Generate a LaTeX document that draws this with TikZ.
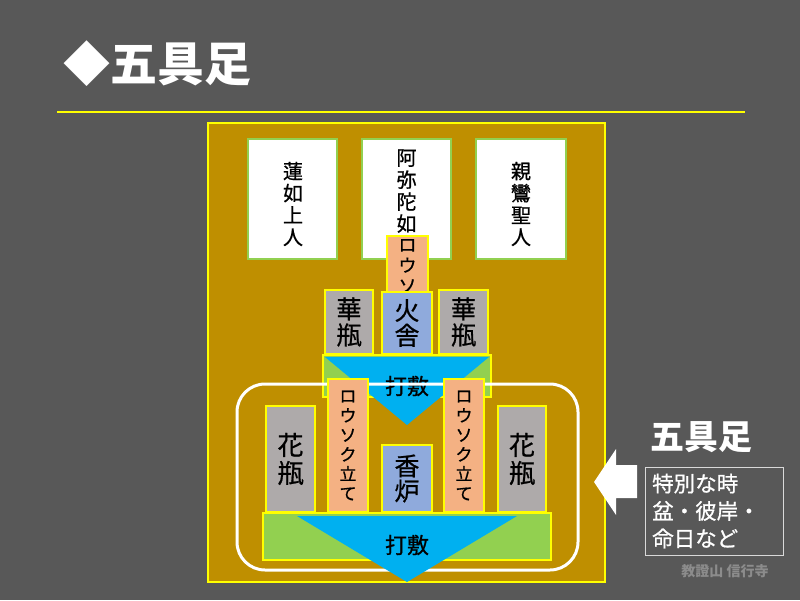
\documentclass[tikz,border=0pt]{standalone}
\usepackage{fontspec}
\setmainfont{Noto Sans CJK JP}
\newfontfamily\jpm[FakeBold=0.8]{Noto Sans CJK JP}
\definecolor{bgc}{HTML}{585858}
\definecolor{gold}{HTML}{BF8F00}
\definecolor{ylw}{HTML}{FFFF00}
\definecolor{grn}{HTML}{92D050}
\definecolor{org}{HTML}{F4B183}
\definecolor{blu}{HTML}{8FAADC}
\definecolor{gry}{HTML}{AEAAAA}
\definecolor{cyn}{HTML}{00B0F0}
\definecolor{foot}{HTML}{8C8C8C}
\definecolor{boxline}{HTML}{D9D9D9}
\tikzset{
  panel/.style={draw=ylw, fill=gold, line width=2pt, inner sep=0pt},
  scroll/.style={draw=grn, fill=white, line width=2.5pt, inner sep=0pt},
  ybox/.style={draw=ylw, line width=2.5pt, inner sep=0pt, align=center, text=black},
  candle/.style={ybox, fill=org, font=\jpm\fontsize{17}{19.5}\selectfont},
  vase/.style={ybox, fill=gry, font=\jpm\fontsize{25}{26}\selectfont},
  censer/.style={ybox, fill=blu, font=\jpm\fontsize{25}{25}\selectfont},
  cloth/.style={ybox, fill=grn},
  tri/.style={fill=cyn},
  clothtext/.style={font=\jpm\fontsize{22}{24}\selectfont, text=black, inner sep=0pt},
  vt/.style={align=center, inner sep=0pt, text=black, font=\jpm\fontsize{20}{22}\selectfont},
}
\begin{document}
\begin{tikzpicture}[x=1pt, y=-1pt]
\fill[bgc] (0,0) rectangle (800,600);
% title
\node[anchor=west, inner sep=0pt, text=white, font=\fontsize{47}{50}\selectfont\bfseries] (title) at (63,64) {◆五具足};
\draw[ylw, line width=2pt] (57,112) -- (745,112);
% panel
\node[panel, minimum width=397, minimum height=459] (panel) at (406.5,352.5) {};
% scrolls
\node[scroll, minimum width=89, minimum height=120] (s1) at (292.5,199) {};
\node[scroll, minimum width=89, minimum height=120] (s2) at (406.5,199) {};
\node[scroll, minimum width=90, minimum height=120] (s3) at (521,199) {};
\node[vt] (t1) at (293,204) {蓮\\如\\上\\人};
\node[vt] (t2) at (406.5,202) {阿\\弥\\陀\\如\\来};
\node[vt] (t3) at (521,204) {親\\鸞\\聖\\人};
% upper altar
\node[candle, minimum width=41, minimum height=118] (c0) at (407.5,295) {};
\node[vt, anchor=north, font=\jpm\fontsize{18}{20.5}\selectfont] (c0t) at (407.5,239) {ロ\\ウ\\ソ};
\node[vase, minimum width=48, minimum height=64] (v1) at (349,322) {華\\瓶};
\node[censer, minimum width=50, minimum height=62] (h0) at (407,323) {火\\舎};
\node[vase, minimum width=49, minimum height=64] (v2) at (463.5,322) {華\\瓶};
\node[cloth, minimum width=168, minimum height=42] (cl1) at (407,376) {};
\coordinate (a1) at (325,357);
\coordinate (b1) at (489,357);
\coordinate (p1) at (407,425);
\fill[tri] (a1) -- (b1) -- (p1) -- cycle;
\node[clothtext] (u1) at (407,386) {打敷};
% white frame
\node[draw=white, line width=3pt, rounded corners=28pt, minimum width=341, minimum height=186, inner sep=0pt] (frame) at (407.5,477) {};
% lower altar
\node[candle, minimum width=40, minimum height=133] (c1) at (348,445.5) {ロ\\ウ\\ソ\\ク\\立\\て};
\node[candle, minimum width=40, minimum height=133] (c2) at (464,445.5) {ロ\\ウ\\ソ\\ク\\立\\て};
\node[vase, minimum width=49, minimum height=106, font=\jpm\fontsize{26}{28}\selectfont] (f1) at (290.5,459) {花\\瓶};
\node[vase, minimum width=48, minimum height=106, font=\jpm\fontsize{26}{28}\selectfont] (f2) at (522,459) {花\\瓶};
\node[censer, minimum width=50, minimum height=67] (k0) at (407,478.5) {香\\炉};
\node[cloth, minimum width=288, minimum height=47] (cl2) at (407,536.5) {};
\coordinate (a2) at (297,516);
\coordinate (b2) at (517,516);
\coordinate (p2) at (407,582);
\fill[tri] (a2) -- (b2) -- (p2) -- cycle;
\node[clothtext] (u2) at (407,545) {打敷};
% right side
\fill[white] (594,482) -- (616,449) -- (616,465) -- (637,465) -- (637,498) -- (616,498) -- (616,515) -- cycle;
\node[inner sep=0pt, text=white, font=\fontsize{34}{36}\selectfont\bfseries] (rt) at (701.5,437) {五具足};
\node[draw=boxline, line width=1pt, minimum width=138, minimum height=88, inner sep=0pt] (rbox) at (714,511) {};
\node[anchor=west, align=left, inner sep=0pt, text=white, font=\jpm\fontsize{21.5}{27.5}\selectfont] (rtext) at (652,511) {特別な時\\盆・彼岸・\\命日など};
\node[inner sep=0pt, text=foot, font=\fontsize{14}{16}\selectfont\bfseries] (foot) at (725,571) {教證山 信行寺};
\end{tikzpicture}
\end{document}
